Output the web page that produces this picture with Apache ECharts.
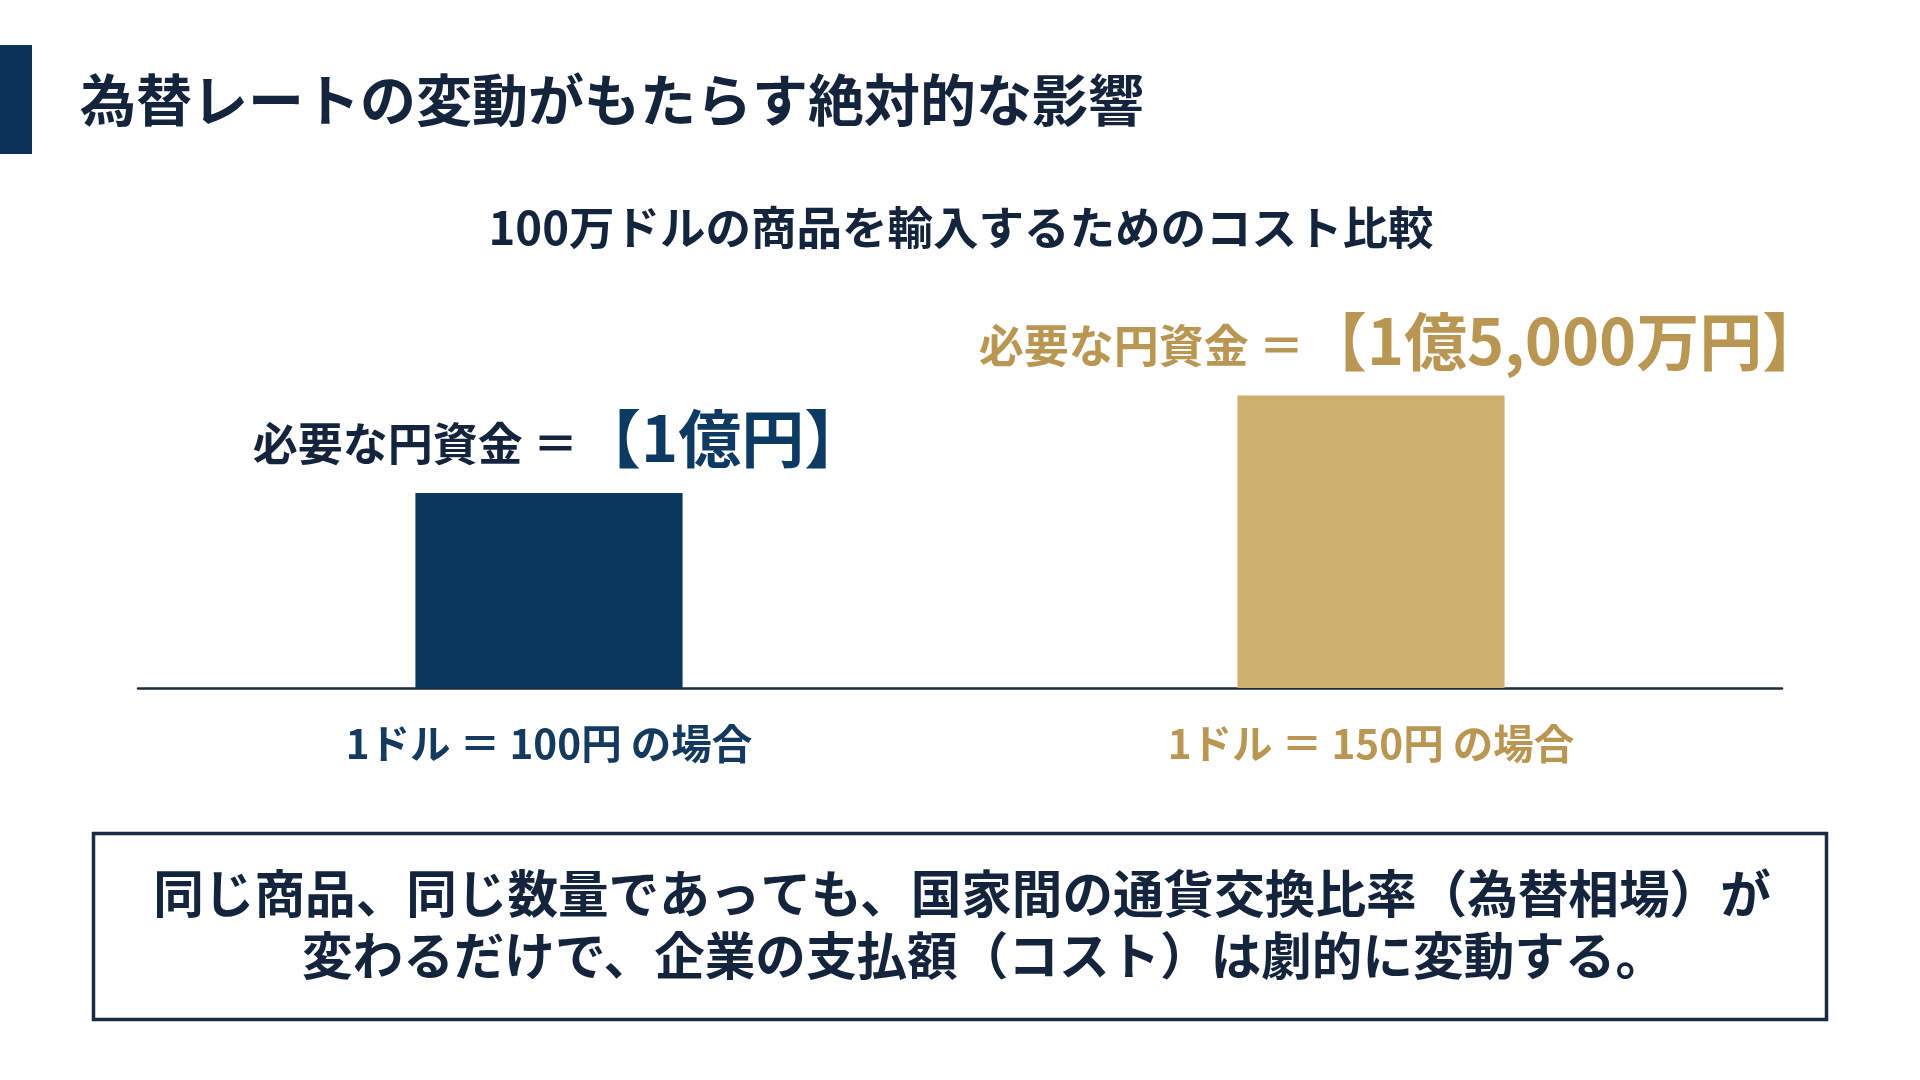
<!DOCTYPE html>
<html>
<head>
<meta charset="utf-8">
<script src="https://cdn.jsdelivr.net/npm/echarts@6/dist/echarts.min.js"></script>
<style>
html,body{margin:0;padding:0;background:#ffffff;}
#c{width:1920px;height:1080px;}
</style>
</head>
<body>
<div id="c"></div>
<script>
// ---- data ----
const pageTitle = '為替レートの変動がもたらす絶対的な影響';
const chartSubtitle = '100万ドルの商品を輸入するためのコスト比較';
const categories = ['1ドル ＝ 100円 の場合', '1ドル ＝ 150円 の場合'];
const costValues = [1.0, 1.5]; // 億円
const labelPrefix = '必要な円資金 ＝';
const costLabels = ['【1億円】', '【1億5,000万円】'];
const noteLines = [
  '同じ商品、同じ数量であっても、国家間の通貨交換比率（為替相場）が',
  '変わるだけで、企業の支払額（コスト）は劇的に変動する。'
];

// ---- style ----
const FONT = '"Noto Sans CJK JP", "Noto Sans", sans-serif';
const NAVY_TEXT = '#14243c';
const NAVY = '#0b365e';
const GOLD = '#cdb06e';
const GOLD_TEXT = '#b99752';
const barColors = [NAVY, GOLD];
const labelSmallColors = [NAVY_TEXT, GOLD_TEXT];
const labelBigColors = ['#0d3a63', GOLD_TEXT];
const axisLabelColors = ['#143a60', GOLD_TEXT];
const labelShiftX = [11, 31];

const chart = echarts.init(document.getElementById('c'), null, {renderer: 'canvas'});

const rich = {};
[0, 1].forEach(i => {
  rich['s' + i] = {fontFamily: FONT, fontWeight: 'bold', fontSize: 45, color: labelSmallColors[i], lineHeight: 72, verticalAlign: 'bottom', padding: [0, 0, 4, 0]};
  rich['b' + i] = {fontFamily: FONT, fontWeight: 'bold', fontSize: 63, color: labelBigColors[i], lineHeight: 72, verticalAlign: 'bottom'};
});
const axisRich = {};
[0, 1].forEach(i => {
  axisRich['c' + i] = {fontFamily: FONT, fontWeight: 'bold', fontSize: 40.5, color: axisLabelColors[i], lineHeight: 44};
});

const option = {
  backgroundColor: '#ffffff',
  animation: false,
  grid: {left: 138, right: 138, top: 298, bottom: 392, containLabel: false},
  xAxis: {
    type: 'category',
    data: categories,
    axisLine: {show: true, lineStyle: {color: '#1a2a40', width: 2.5}},
    axisTick: {show: false},
    axisLabel: {
      margin: 34,
      formatter: (v, i) => '{c' + i + '|' + v + '}',
      rich: axisRich
    }
  },
  yAxis: {
    type: 'value',
    min: 0,
    max: 2,
    show: false,
    splitLine: {show: false}
  },
  series: [{
    type: 'bar',
    barWidth: '32.5%',
    data: costValues.map((v, i) => ({value: v, itemStyle: {color: barColors[i]}, label: {offset: [labelShiftX[i], 0]}})),
    label: {
      show: true,
      position: 'top',
      distance: 23,
      formatter: p => '{s' + p.dataIndex + '|' + labelPrefix + '}{b' + p.dataIndex + '|' + costLabels[p.dataIndex] + '}',
      rich: rich
    }
  }],
  graphic: [
    {type: 'rect', shape: {x: 0, y: 45, width: 32, height: 109}, style: {fill: '#0b3358'}},
    {type: 'text', x: 80, y: 100, style: {text: pageTitle, font: 'bold 56px ' + FONT, fill: NAVY_TEXT, textAlign: 'left', textVerticalAlign: 'middle'}},
    {type: 'text', x: 961, y: 228, style: {text: chartSubtitle, font: 'bold 45.5px ' + FONT, fill: NAVY_TEXT, textAlign: 'center', textVerticalAlign: 'middle'}},
    {type: 'rect', shape: {x: 93.5, y: 833.5, width: 1733, height: 186}, style: {fill: 'none', stroke: '#1a2a40', lineWidth: 3.5}},
    {type: 'text', x: 962, y: 894, style: {text: noteLines[0], font: 'bold 50.6px ' + FONT, fill: NAVY_TEXT, textAlign: 'center', textVerticalAlign: 'middle'}},
    {type: 'text', x: 984, y: 956, style: {text: noteLines[1], font: 'bold 50.6px ' + FONT, fill: NAVY_TEXT, textAlign: 'center', textVerticalAlign: 'middle'}}
  ]
};
chart.setOption(option);
</script>
</body>
</html>
